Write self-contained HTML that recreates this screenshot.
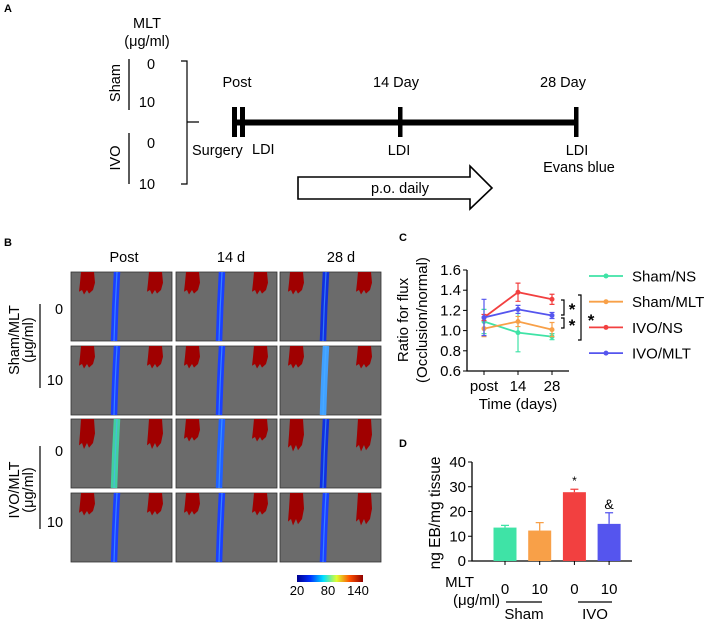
<!DOCTYPE html>
<html><head><meta charset="utf-8"><style>
body{margin:0;background:#fff}
svg{display:block;font-family:"Liberation Sans",sans-serif}
</style></head><body>
<svg width="708" height="619" viewBox="0 0 708 619">
<defs>
<linearGradient id="jet" x1="0" x2="1" y1="0" y2="0">
<stop offset="0" stop-color="#00008f"/><stop offset="0.2" stop-color="#0030ff"/><stop offset="0.4" stop-color="#00e0ff"/><stop offset="0.6" stop-color="#e0ff30"/><stop offset="0.8" stop-color="#ff5000"/><stop offset="1" stop-color="#900000"/>
</linearGradient>
</defs>
<!-- Panel A -->
<g font-size="14.5" fill="#000">
<text x="4" y="12" font-weight="bold" font-size="11">A</text>
<text x="147" y="28" text-anchor="middle">MLT</text>
<text x="147" y="46" text-anchor="middle">(μg/ml)</text>
<line x1="129" y1="59" x2="129" y2="110" stroke="#000" stroke-width="1.3"/>
<text transform="translate(120,83) rotate(-90)" text-anchor="middle">Sham</text>
<text x="151" y="69" text-anchor="middle">0</text><text x="147" y="107" text-anchor="middle">10</text>
<line x1="129" y1="133" x2="129" y2="184" stroke="#000" stroke-width="1.3"/>
<text transform="translate(120,158) rotate(-90)" text-anchor="middle">IVO</text>
<text x="151" y="148" text-anchor="middle">0</text><text x="147" y="189" text-anchor="middle">10</text>
<path d="M181 61 H187 V184 H181 M187 122 H199" fill="none" stroke="#000" stroke-width="1.2"/>
<rect x="233" y="119.5" width="345" height="6" fill="#000"/>
<rect x="232" y="107" width="5" height="30" fill="#000"/><rect x="240" y="107" width="5" height="30" fill="#000"/>
<rect x="398" y="107" width="4.5" height="30" fill="#000"/><rect x="574" y="107" width="4.5" height="30" fill="#000"/>
<text x="237" y="87" text-anchor="middle">Post</text>
<text x="396" y="87" text-anchor="middle">14 Day</text>
<text x="563" y="87" text-anchor="middle">28 Day</text>
<text x="192" y="155">Surgery</text><text x="252" y="154">LDI</text>
<text x="399" y="155" text-anchor="middle">LDI</text>
<text x="577" y="155" text-anchor="middle">LDI</text>
<text x="579" y="172" text-anchor="middle">Evans blue</text>
<path d="M298 177 H470 V166 L492 188 L470 209 V199 H298 Z" fill="#fff" stroke="#000" stroke-width="1.6"/>
<text x="400" y="193" text-anchor="middle">p.o. daily</text>
</g>
<!-- Panel B -->
<g font-size="14.5">
<text x="4" y="246" font-weight="bold" font-size="11">B</text>
<text x="124" y="262" text-anchor="middle">Post</text>
<text x="231" y="262" text-anchor="middle">14 d</text>
<text x="341" y="262" text-anchor="middle">28 d</text>
<text transform="translate(19,340) rotate(-90)" text-anchor="middle">Sham/MLT</text>
<text transform="translate(33,340) rotate(-90)" text-anchor="middle">(μg/ml)</text>
<line x1="40" y1="304" x2="40" y2="388" stroke="#000" stroke-width="1.2"/>
<text x="59" y="314" text-anchor="middle">0</text><text x="55" y="385" text-anchor="middle">10</text>
<text transform="translate(19,490) rotate(-90)" text-anchor="middle">IVO/MLT</text>
<text transform="translate(33,490) rotate(-90)" text-anchor="middle">(μg/ml)</text>
<line x1="40" y1="446" x2="40" y2="529" stroke="#000" stroke-width="1.2"/>
<text x="59" y="456" text-anchor="middle">0</text><text x="55" y="527" text-anchor="middle">10</text>
<g id="ldi"></g>
<rect x="297" y="575" width="66" height="7" fill="url(#jet)"/>
<g font-size="13"><text x="297" y="595" text-anchor="middle">20</text><text x="328" y="595" text-anchor="middle">80</text><text x="358" y="595" text-anchor="middle">140</text></g>
</g>
<!-- Panel C -->
<g id="pc" font-size="15"></g>
<!-- Panel D -->
<g id="pd" font-size="15"></g>
</svg>
<script>
const NS="http://www.w3.org/2000/svg";
function mk(p,t,a,txt){const e=document.createElementNS(NS,t);for(const k in a)e.setAttribute(k,a[k]);if(txt!==undefined)e.textContent=txt;p.appendChild(e);return e;}
// LDI images
const colX=[71,176,280], rowY=[272,346,419,493], pw=101, ph=69;
const vesselColor=[["#1a40ff","#1a40ff","#1030e0"],["#1a40ff","#1a40ff","#40a0ff"],["#40d0a0","#2060ff","#1030e0"],["#1a40ff","#1a40ff","#1a40ff"]];
const ldi=document.getElementById('ldi');
function paw(g,px,py,s){
 mk(g,'path',{d:`M${px-6} ${py} L${px+7} ${py} L${px+8} ${py+12*s} L${px+6} ${py+20*s} L${px+2} ${py+24*s} L${px} ${py+20*s} L${px-3} ${py+25*s} L${px-5} ${py+20*s} L${px-8} ${py+22*s} L${px-7} ${py+12*s} Z`,fill:'#a00000'});
}
for(let r=0;r<4;r++)for(let c=0;c<3;c++){
 const x=colX[c],y=rowY[r];
 const g=mk(ldi,'g',{});
 
 
 mk(g,'rect',{x:x,y:y,width:pw,height:ph,fill:'#6b6b6b',stroke:'#333','stroke-width':0.8});
 mk(g,'path',{d:`M${x+46} ${y} Q${x+44} ${y+35} ${x+43} ${y+ph}`,stroke:vesselColor[r][c],'stroke-width':6.5,fill:'none'});
 mk(g,'path',{d:`M${x+46} ${y} Q${x+44} ${y+35} ${x+43} ${y+ph}`,stroke:'#50b0ff','stroke-width':1.2,fill:'none',opacity:0.6});
 const s=(r===2&&c===0)?1.2:(c===2&&r>=2?1.3:0.9);
 paw(g,x+16,y,s);
 paw(g,x+84,y,s);
}
// Panel C
const timeLabels=["post","14","28"];
const yTicksC=[0.6,0.8,1.0,1.2,1.4,1.6];
const seriesNames=["Sham/NS","Sham/MLT","IVO/NS","IVO/MLT"];
const colors=["#3fe3a6","#f8a048","#f24040","#5555ee"];
const shamNS=[1.09,0.98,0.94], shamNSErr=[0.12,0.19,0.03];
const shamMLT=[1.02,1.09,1.01], shamMLTErr=[0.08,0.05,0.07];
const ivoNS=[1.13,1.38,1.31], ivoNSErr=[0.03,0.09,0.05];
const ivoMLT=[1.13,1.21,1.15], ivoMLTErr=[0.18,0.04,0.03];
const vals=[shamNS,shamMLT,ivoNS,ivoMLT], errs=[shamNSErr,shamMLTErr,ivoNSErr,ivoMLTErr];
const pc=document.getElementById('pc');
const xC=i=>484+i*34, yC=v=>371-(v-0.6)/1.0*101;
mk(pc,'text',{x:399,y:241,'font-weight':'bold','font-size':11},'C');
mk(pc,'path',{d:`M467 ${yC(1.6)} V371 H569`,stroke:'#000','stroke-width':1.3,fill:'none'});
yTicksC.forEach(t=>{mk(pc,'line',{x1:463,x2:467,y1:yC(t),y2:yC(t),stroke:'#000'});const e=mk(pc,'text',{x:461,y:yC(t)+5,'text-anchor':'end','font-size':15},t.toFixed(1));});
timeLabels.forEach((l,i)=>{mk(pc,'line',{x1:xC(i),x2:xC(i),y1:371,y2:375,stroke:'#000'});mk(pc,'text',{x:xC(i),y:391,'text-anchor':'middle','font-size':15},l);});
mk(pc,'text',{x:518,y:409,'text-anchor':'middle','font-size':15},'Time (days)');
mk(pc,'text',{transform:'translate(408,320) rotate(-90)','text-anchor':'middle','font-size':15},'Ratio for flux');
mk(pc,'text',{transform:'translate(427,320) rotate(-90)','text-anchor':'middle','font-size':15},'(Occlusion/normal)');
vals.forEach((s,k)=>{
 const g=mk(pc,'g',{});
 
 
 s.forEach((v,i)=>{const e=errs[k][i];mk(g,'path',{d:`M${xC(i)} ${yC(v-e)} V${yC(v+e)} M${xC(i)-2.5} ${yC(v-e)} h5 M${xC(i)-2.5} ${yC(v+e)} h5`,stroke:colors[k],'stroke-width':1.2,fill:'none'});});
 mk(g,'polyline',{points:s.map((v,i)=>xC(i)+','+yC(v)).join(' '),fill:'none',stroke:colors[k],'stroke-width':1.8});
 s.forEach((v,i)=>mk(g,'circle',{cx:xC(i),cy:yC(v),r:2.5,fill:colors[k]}));
 const ly=276+k*25.7;
 const le=mk(pc,'g',{});
 
 
 mk(le,'line',{x1:589,x2:623,y1:ly,y2:ly,stroke:colors[k],'stroke-width':1.8});
 mk(le,'circle',{cx:606,cy:ly,r:2.5,fill:colors[k]});
 mk(le,'text',{x:632,y:ly+5.5,'font-size':15},seriesNames[k]);
});
mk(pc,'path',{d:'M561 300 h3 v15 h-3 M561 318 h3 v10 h-3 M578 295 h3 v45 h-3',stroke:'#000','stroke-width':1.2,fill:'none'});
mk(pc,'text',{x:572,y:315,'text-anchor':'middle','font-size':17,'font-weight':'bold'},'*');
mk(pc,'text',{x:572,y:331,'text-anchor':'middle','font-size':17,'font-weight':'bold'},'*');
mk(pc,'text',{x:591,y:326,'text-anchor':'middle','font-size':17,'font-weight':'bold'},'*');
// Panel D
const groupLabels=["0","10","0","10"];
const ebValues=[13.5,12.3,27.8,15.0];
const ebErr=[0.9,3.2,1.2,4.5];
const yTicksD=[0,10,20,30,40];
const pd=document.getElementById('pd');
const xD=i=>505+i*34.7, yD=v=>561-v/40*99;
mk(pd,'text',{x:399,y:447,'font-weight':'bold','font-size':11},'D');
mk(pd,'path',{d:`M472 ${yD(40)} V561 H632`,stroke:'#000','stroke-width':1.3,fill:'none'});
yTicksD.forEach(t=>{mk(pd,'line',{x1:468,x2:472,y1:yD(t),y2:yD(t),stroke:'#000'});mk(pd,'text',{x:466,y:yD(t)+5,'text-anchor':'end','font-size':15},String(t));});
ebValues.forEach((v,i)=>{
 const b=mk(pd,'rect',{x:xD(i)-11.5,y:yD(v),width:23,height:561-yD(v),fill:colors[i]});
 
 
 const e=ebErr[i];
 mk(pd,'path',{d:`M${xD(i)} ${yD(v)} V${yD(v+e)} M${xD(i)-4} ${yD(v+e)} h8`,stroke:colors[i],'stroke-width':1.3,fill:'none'});
 mk(pd,'line',{x1:xD(i),x2:xD(i),y1:561,y2:565,stroke:'#000'});
 mk(pd,'text',{x:xD(i),y:594,'text-anchor':'middle','font-size':15},groupLabels[i]);
});
mk(pd,'text',{x:xD(2),y:485,'text-anchor':'middle','font-size':12},'*');
mk(pd,'text',{x:xD(3),y:509,'text-anchor':'middle','font-size':14},'&');
mk(pd,'text',{transform:'translate(440,513) rotate(-90)','text-anchor':'middle','font-size':15.5},'ng EB/mg tissue');
mk(pd,'text',{x:474,y:587,'text-anchor':'end','font-size':15},'MLT');
mk(pd,'text',{x:500,y:605,'text-anchor':'end','font-size':15},'(μg/ml)');
mk(pd,'line',{x1:506,x2:542,y1:602,y2:602,stroke:'#000','stroke-width':1.2});
mk(pd,'line',{x1:578,x2:612,y1:602,y2:602,stroke:'#000','stroke-width':1.2});
mk(pd,'text',{x:524,y:619,'text-anchor':'middle','font-size':15},'Sham');
mk(pd,'text',{x:595,y:619,'text-anchor':'middle','font-size':15},'IVO');
</script>
</body></html>
